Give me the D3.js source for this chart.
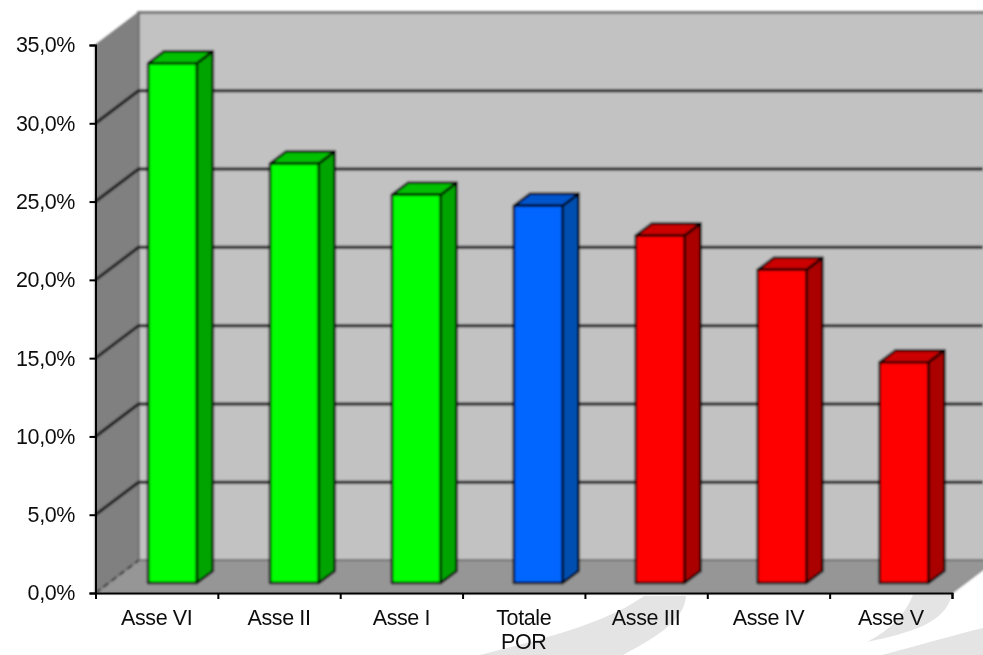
<!DOCTYPE html>
<html>
<head>
<meta charset="utf-8">
<script src="https://cdn.jsdelivr.net/npm/d3@7"></script>
<style>
  html, body { margin: 0; padding: 0; background: #fff; overflow: hidden; }
  text { font-family: "Liberation Sans", Arial, sans-serif; fill: #111; }
</style>
</head>
<body>
<div id="chart"></div>
<script>
const categories = ["Asse VI", "Asse II", "Asse I", "Totale POR", "Asse III", "Asse IV", "Asse V"];
const values = [33.2, 26.8, 24.8, 24.1, 22.2, 20.0, 14.1];
const groups = ["green", "green", "green", "blue", "red", "red", "red"];
const yTicks = [0, 5, 10, 15, 20, 25, 30, 35];

const palette = {
    green: {front: "#00ff00", side: "#00a400", top: "#00c000"},
    blue: {front: "#0066ff", side: "#0050b0", top: "#0055cc"},
    red: {front: "#ff0000", side: "#aa0000", top: "#cc0000"}
};

(function() {

    const width = 983;
    const height = 655;

    const left = 95.5, right = 952, bottom = 593, top = 45;
    const depthX = 43, depthY = 32.5;   // wall depth
    const barDepthX = 16, barDepthY = 12;
    const barShiftX = 16, barShiftY = 10;

    const y = d3.scaleLinear().domain([0, 35]).range([bottom, top]);
    const x = d3.scaleBand().domain(categories).range([left, right]);
    const barX = d3.scaleBand().domain(categories).range([left, right - 3])
        .paddingInner(0.6).paddingOuter(0.3);
    const tickX = d3.scaleLinear().domain([0, categories.length]).range([left, right]);

    const svg = d3.select("#chart").append("svg")
        .attr("width", width)
        .attr("height", height);

    const defs = svg.append("defs");
    defs.append("filter").attr("id", "soft").append("feGaussianBlur").attr("stdDeviation", 0.8);
    defs.append("filter").attr("id", "softText").append("feGaussianBlur").attr("stdDeviation", 0.4);

    // pale swooshes of the slide behind the chart
    svg.append("g").attr("fill", "#e4e4e4")
        .selectAll("path")
        .data([
            "M480,655 C560,635 610,620 644,596 L686,596 C684,620 660,635 623,655 Z",
            "M867,642 C890,630 905,615 913,595 L952,595 C945,622 915,632 867,642 Z",
            "M882,655 C920,645 950,636 983,628 L983,655 Z"
        ])
        .join("path")
        .attr("d", d => d);

    const plot = svg.append("g").attr("filter", "url(#soft)");

    // back wall
    plot.append("rect")
        .attr("x", left + depthX).attr("y", y(35) - depthY)
        .attr("width", width).attr("height", y(0) - y(35))
        .attr("fill", "#c2c2c2")
        .attr("stroke", "#666").attr("stroke-width", 2.5);

    // side wall
    plot.append("path")
        .attr("d", `M${left},${y(0)}L${left},${y(35)}L${left + depthX},${y(35) - depthY}L${left + depthX},${y(0) - depthY}Z`)
        .attr("fill", "#808080")
        .attr("stroke", "#666").attr("stroke-width", 1);

    // floor
    plot.append("path")
        .attr("d", `M${left},${y(0)}L${right},${y(0)}L${right + depthX},${y(0) - depthY}L${left + depthX},${y(0) - depthY}Z`)
        .attr("fill", "#969696")
        .attr("stroke", "#666").attr("stroke-width", 1);

    // grid lines, on the back wall and along the side wall
    const gridTicks = yTicks.filter(d => d > 0 && d < 35);
    plot.append("g").selectAll("path")
        .data(gridTicks)
        .join("path")
        .attr("d", d => `M${left},${y(d)}L${left + depthX},${y(d) - depthY}L${width},${y(d) - depthY}`)
        .attr("fill", "none")
        .attr("stroke", "#111")
        .attr("stroke-width", 3);
    plot.append("path")
        .attr("d", `M${left},${y(0)}L${left + depthX},${y(0) - depthY}`)
        .attr("fill", "none").attr("stroke", "#333").attr("stroke-width", 2)
        .attr("stroke-dasharray", "6,4");

    // bars
    const bars = plot.append("g").selectAll("g")
        .data(categories)
        .join("g")
        .attr("stroke", "#000")
        .attr("stroke-width", 2.5)
        .attr("stroke-linejoin", "round");

    const bx = d => barX(d) + barShiftX;
    const bw = barX.bandwidth();
    const by = (d, i) => y(values[i]) - barShiftY;
    const base = y(0) - barShiftY;

    bars.append("path")
        .attr("fill", (d, i) => palette[groups[i]].side)
        .attr("d", (d, i) => `M${bx(d) + bw},${base}L${bx(d) + bw},${by(d, i)}L${bx(d) + bw + barDepthX},${by(d, i) - barDepthY}L${bx(d) + bw + barDepthX},${base - barDepthY}Z`);
    bars.append("path")
        .attr("fill", (d, i) => palette[groups[i]].top)
        .attr("d", (d, i) => `M${bx(d)},${by(d, i)}L${bx(d) + barDepthX},${by(d, i) - barDepthY}L${bx(d) + bw + barDepthX},${by(d, i) - barDepthY}L${bx(d) + bw},${by(d, i)}Z`);
    bars.append("rect")
        .attr("fill", (d, i) => palette[groups[i]].front)
        .attr("x", bx)
        .attr("y", by)
        .attr("width", bw)
        .attr("height", (d, i) => base - by(d, i));

    // axes
    const yAxis = svg.append("g")
        .attr("transform", `translate(${left},0)`)
        .call(d3.axisLeft(y).tickValues(yTicks).tickSize(6).tickPadding(14.5)
            .tickFormat(d => d3.format(".1f")(d).replace(".", ",") + "%"));

    const xTicks = svg.append("g")
        .attr("transform", `translate(0,${bottom})`)
        .call(d3.axisBottom(tickX).tickValues(d3.range(categories.length + 1)).tickSize(6).tickFormat(""));

    const xAxis = svg.append("g")
        .attr("transform", `translate(0,${bottom})`)
        .call(d3.axisBottom(x).tickSize(0).tickPadding(17));
    xAxis.select(".domain").remove();

    [yAxis, xTicks].forEach(a => {
        a.selectAll("path, line").attr("stroke", "#000").attr("stroke-width", 2);
    });

    [yAxis, xAxis].forEach(a => {
        a.attr("font-family", null).attr("font-size", null);
        a.selectAll("text")
            .attr("font-size", 21.5)
            .attr("letter-spacing", -0.4)
            .attr("filter", "url(#softText)");
    });

    // only the long label wraps on two lines
    xAxis.selectAll("text").each(function(d) {
        if (d !== "Totale POR") return;
        const t = d3.select(this).text(null);
        d.split(" ").forEach((w, i) => {
            t.append("tspan").attr("x", 0).attr("dy", i ? 24 : "0.71em").text(w);
        });
    });

}());
</script>
</body>
</html>
